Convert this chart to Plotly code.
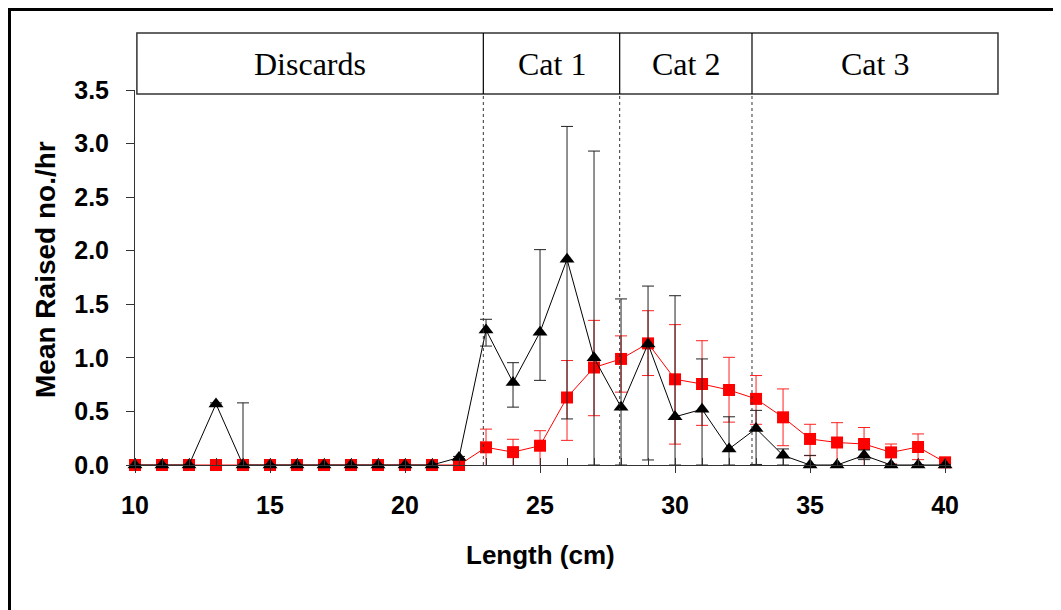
import plotly.graph_objects as go

# ---------------- data ----------------
lengths = list(range(10, 41))

# black triangles series
black_vals = [0, 0, 0, 0.57, 0, 0, 0, 0, 0, 0, 0, 0, 0.07, 1.26, 0.77, 1.24, 1.92, 1.00,
              0.54, 1.13, 0.45, 0.52, 0.15, 0.34, 0.09, 0, 0, 0.09, 0, 0, 0]
black_upper = [None, None, None, 0.58, 0.58, None, None, None, None, None, None, None, 0.08,
               1.36, 0.955, 2.01, 3.16, 2.93, 1.55, 1.67, 1.58, 0.99, 0.45, 0.51, 0.15, 0.09,
               None, 0.14, None, None, None]
black_lower = [None, None, None, 0.56, 0, None, None, None, None, None, None, None, 0.06,
               1.11, 0.54, 0.79, 0.43, 0, 0, 0.047, 0, 0, 0, 0.005, 0, 0,
               None, 0.05, None, None, None]

# red squares series
red_vals = [0, 0, 0, 0, 0, 0, 0, 0, 0, 0, 0, 0, 0, 0.165, 0.12, 0.18, 0.63, 0.91, 0.99,
            1.135, 0.80, 0.756, 0.70, 0.617, 0.445, 0.243, 0.21, 0.196, 0.118, 0.168, 0.025]
red_upper = [None] * 13 + [0.335, 0.24, 0.32, 0.975, 1.35, 1.205, 1.44, 1.31, 1.16, 1.005,
                           0.835, 0.71, 0.38, 0.395, 0.35, 0.196, 0.29, 0.04]
red_lower = [None] * 13 + [-0.05, -0.05, -0.05, 0.23, 0.46, 0.68, 0.835, 0.195, 0.37, 0.40,
                           0.38, 0.18, 0.087, -0.02, -0.04, 0.01, 0.05, 0.01]

categories = ["Discards", "Cat 1", "Cat 2", "Cat 3"]
cat_edges = [10.07, 22.9, 27.95, 32.85, 41.96]   # in cm

x_ticks = [10, 15, 20, 25, 30, 35, 40]
y_ticks = [0.0, 0.5, 1.0, 1.5, 2.0, 2.5, 3.0, 3.5]

# ---------------- layout helpers ----------------
OFF = 8                      # page body margin of the html page
W, H = 1061, 610
ML, MT = 135 - OFF, 90 - OFF
PW, PH = 816, 375
MR = W - ML - PW
MB = H - MT - PH
XR = [10, 40.22]
YR = [0, 3.5]


def px_x(px):
    return (px - OFF - ML) / PW


def px_y(py):
    return (MT + PH - (py - OFF)) / PH


def cm_x(v):
    return (v - XR[0]) / (XR[1] - XR[0])


def err_parts(vals, up, lo):
    plus, minus = [], []
    for v, u, l in zip(vals, up, lo):
        if u is None:
            plus.append(None)
            minus.append(None)
        else:
            plus.append(round(u - v, 4))
            minus.append(round(v - l, 4))
    return plus, minus


rp, rm = err_parts(red_vals, red_upper, red_lower)
bp, bm = err_parts(black_vals, black_upper, black_lower)

AX = "#333333"
tickf = dict(family="Liberation Sans, Arial, sans-serif", size=25, color="black", weight="bold")
titlef = dict(family="Liberation Sans, Arial, sans-serif", size=26, color="black", weight="bold")
ytitlef = dict(family="Liberation Sans, Arial, sans-serif", size=28, color="black", weight="bold")

fig = go.Figure()
fig.add_trace(go.Scatter(
    x=lengths, y=red_vals, mode="lines+markers",
    line=dict(color="#ff0000", width=1),
    marker=dict(symbol="square", size=12, color="#ff0000"),
    error_y=dict(type="data", symmetric=False, array=rp, arrayminus=rm,
                 color="#ff2020", thickness=1, width=6),
    cliponaxis=False, showlegend=False))
fig.add_trace(go.Scatter(
    x=lengths, y=black_vals, mode="lines+markers",
    line=dict(color="black", width=1),
    marker=dict(symbol="triangle-up", size=13, color="black"),
    error_y=dict(type="data", symmetric=False, array=bp, arrayminus=bm,
                 color="#222222", thickness=1, width=6),
    cliponaxis=False, showlegend=False))

shapes = []
# outer frame
shapes.append(dict(type="rect", xref="paper", yref="paper",
                   x0=px_x(9.5), x1=px_x(1090), y0=px_y(640), y1=px_y(9.5),
                   line=dict(color="black", width=3), fillcolor="rgba(0,0,0,0)"))
# category box
bt, bb = px_y(33), px_y(94)
shapes.append(dict(type="rect", xref="paper", yref="paper",
                   x0=cm_x(cat_edges[0]), x1=cm_x(cat_edges[-1]), y0=bb, y1=bt,
                   line=dict(color=AX, width=1.5), fillcolor="rgba(0,0,0,0)"))
for e in cat_edges[1:-1]:
    shapes.append(dict(type="line", xref="paper", yref="paper",
                       x0=cm_x(e), x1=cm_x(e), y0=bb, y1=bt,
                       line=dict(color="black", width=1.2)))
    shapes.append(dict(type="line", xref="paper", yref="paper",
                       x0=cm_x(e), x1=cm_x(e), y0=0, y1=bb,
                       line=dict(color=AX, width=1, dash="dot")))

annotations = []
for i, c in enumerate(categories):
    xm = (cm_x(cat_edges[i]) + cm_x(cat_edges[i + 1])) / 2
    annotations.append(dict(text=c, xref="paper", yref="paper", x=xm, y=(bt + bb) / 2,
                            xanchor="center", yanchor="middle", showarrow=False,
                            font=dict(family="Liberation Serif, Times New Roman, serif",
                                      size=32, color="black")))
annotations.append(dict(text="Length (cm)", xref="paper", yref="paper",
                        x=px_x(540), y=px_y(555), xanchor="center", yanchor="middle",
                        showarrow=False, font=titlef))
annotations.append(dict(text="Mean Raised no./hr", xref="paper", yref="paper",
                        x=px_x(45), y=px_y(270), xanchor="center", yanchor="middle",
                        textangle=-90, showarrow=False, font=ytitlef))

fig.update_layout(
    width=W, height=H, margin=dict(l=ML, r=MR, t=MT, b=MB, autoexpand=False),
    paper_bgcolor="white", plot_bgcolor="white",
    shapes=shapes, annotations=annotations,
    xaxis=dict(range=XR, tickmode="array", tickvals=x_ticks, ticks="outside", ticklen=7,
               tickcolor=AX, showline=True, linecolor=AX, linewidth=1, showgrid=False,
               zeroline=False, tickfont=tickf, ticklabelstandoff=11,
               minor=dict(tickmode="linear", tick0=10, dtick=1, ticks="inside", ticklen=7,
                          tickcolor=AX, showgrid=False)),
    yaxis=dict(range=YR, tickmode="array", tickvals=y_ticks, tickformat=".1f",
               ticks="outside", ticklen=8, tickcolor=AX, showline=True, linecolor=AX,
               linewidth=1, showgrid=False, zeroline=False, tickfont=tickf,
               ticklabelstandoff=12),
)

fig.write_html("out.html")
